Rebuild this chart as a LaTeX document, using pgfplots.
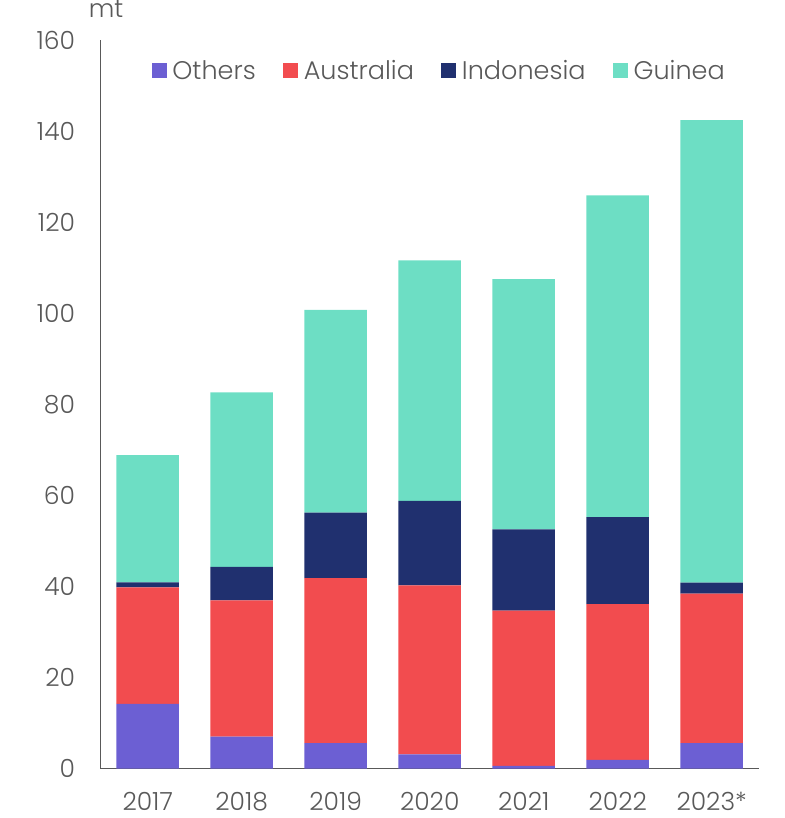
\documentclass[border=0pt]{standalone}
\usepackage{pgfplots}
\pgfplotsset{compat=1.18}
\usepackage{fontspec}
\setmainfont{Poppins}[UprightFont=* Light]
\definecolor{cOthers}{RGB}{108,95,211}
\definecolor{cAus}{RGB}{242,76,79}
\definecolor{cIndo}{RGB}{32,48,111}
\definecolor{cGuinea}{RGB}{109,222,196}
\definecolor{txtgray}{RGB}{89,89,89}
\begin{document}
\begin{tikzpicture}
\useasboundingbox (-100.7pt,-49.5pt) rectangle (683.3pt,768.5pt);
\begin{axis}[
  at={(0pt,0pt)}, anchor=south west,
  scale only axis,
  width=658pt, height=728.5pt,
  ybar stacked,
  bar width=0.665,
  xmin=-0.5, xmax=6.5,
  ymin=0, ymax=160,
  ytick={0,20,...,160},
  xtick=data,
  xticklabels={2017,2018,2019,2020,2021,2022,2023*},
  axis x line=bottom, axis y line=left,
  x axis line style={-, line width=1.6pt, color=txtgray},
  y axis line style={-, line width=1.1pt, color=txtgray},
  major tick length=0pt,
  /pgf/number format/assume math mode=true,
  tick label style={font=\fontsize{25}{30}\selectfont, text=txtgray, inner sep=0pt},
  yticklabel style={anchor=east, xshift=-25.5pt},
  xticklabel style={anchor=north, yshift=-23.5pt},
  legend columns=4,
  legend cell align=left,
  legend style={draw=none, fill=none, inner sep=0pt, at={(axis description cs:0.0775,0.9577)}, anchor=west,
    font=\fontsize{25.5}{30}\selectfont, text=txtgray, nodes={inner sep=0pt},
    /tikz/every odd column/.style={column sep=5.5pt},
    /tikz/every even column/.style={column sep=27.5pt}},
  legend image code/.code={\fill[#1] (0pt,-7.5pt) rectangle (15pt,7.5pt);},
  clip=false,
]
\addplot+[fill=cOthers, draw=none] coordinates {(0,14.2) (1,7.0) (2,5.6) (3,3.1) (4,0.6) (5,1.9) (6,5.6)};
\addplot+[fill=cAus, draw=none] coordinates {(0,25.6) (1,29.9) (2,36.2) (3,37.1) (4,34.1) (5,34.2) (6,32.8)};
\addplot+[fill=cIndo, draw=none] coordinates {(0,1.1) (1,7.4) (2,14.4) (3,18.6) (4,17.8) (5,19.1) (6,2.4)};
\addplot+[fill=cGuinea, draw=none] coordinates {(0,27.9) (1,38.3) (2,44.5) (3,52.8) (4,55.0) (5,70.7) (6,101.6)};
\legend{Others,Australia,Indonesia,Guinea}
\node[anchor=base, text=txtgray, font=\fontsize{25}{30}\selectfont, inner sep=0pt] at (rel axis cs:0,1) [xshift=5.3pt, yshift=22pt] {mt};
\end{axis}
\end{tikzpicture}
\end{document}
